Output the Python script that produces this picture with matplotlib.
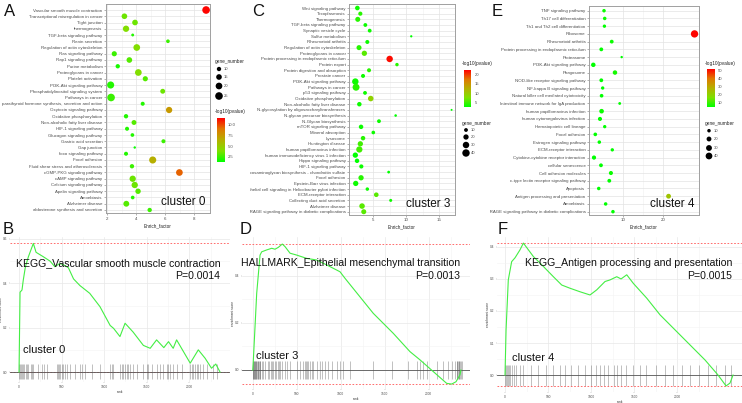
import matplotlib
matplotlib.use('Agg')
import matplotlib.pyplot as plt
import numpy as np
from matplotlib.colors import LinearSegmentedColormap, Normalize
from matplotlib.colorbar import ColorbarBase
from matplotlib.transforms import Bbox, TransformedBbox

plt.rcParams['font.family'] = ['Liberation Sans', 'DejaVu Sans']

# ---------------- data: KEGG dot plots ----------------
A_terms = ['Vascular smooth muscle contraction', 'Transcriptional misregulation in cancer', 'Tight junction',
           'thermogenesis', 'TGF-beta signaling pathway', 'Renin secretion', 'Regulation of actin cytoskeleton',
           'Ras signaling pathway', 'Rap1 signaling pathway', 'Purine metabolism', 'Proteoglycans in cancer',
           'Platelet activation', 'PI3K-Akt signaling pathway', 'Phosphatidylinositol signaling system',
           'Pathways in cancer', 'parathyroid hormone synthesis, secretion and action', 'Oxytocin signaling pathway',
           'Oxidative phosphorylation', 'Non-alcoholic fatty liver disease', 'HIF-1 signaling pathway',
           'Glucagon signaling pathway', 'Gastric acid secretion', 'Gap junction', 'foxo signaling pathway',
           'Focal adhesion', 'Fluid shear stress and atherosclerosis', 'cGMP-PKG signaling pathway',
           'cAMP signaling pathway', 'Calcium signaling pathway', 'Apelin signaling pathway', 'Amoebiasis',
           'Alzheimer disease', 'aldosterone synthesis and secretion']
A_enrich = [8.83, 3.2, 3.93, 3.31, 3.77, 6.2, 4.05, 2.5, 3.54, 2.74, 4.16, 4.64, 2.25, 5.84, 2.28, 4.46, 6.28,
            3.31, 3.86, 3.38, 3.75, 5.89, 3.91, 3.31, 5.15, 3.72, 6.99, 3.77, 3.91, 4.14, 3.77, 3.33, 4.94]
A_genes = [25, 15, 15, 18, 6, 8, 20, 13, 15, 10, 20, 13, 22, 12, 25, 9, 18, 10, 12, 9, 8, 9, 5, 9, 22, 10, 20,
           18, 18, 14, 8, 16, 10]
A_logp = [11.5, 3.5, 3.5, 4, 2, 2.5, 4, 2.5, 3, 1.8, 4, 3, 2, 3.5, 2.5, 2, 7.5, 2, 3, 2, 2, 2.5, 1.5, 2, 6.5,
          2.5, 9.5, 3.5, 3.5, 3, 2, 3, 2.5]

C_terms = ['Wnt signaling pathway', 'Toxoplasmosis', 'Thermogenesis', 'TGF-beta signaling pathway',
           'Synaptic vesicle cycle', 'Sulfur metabolism', 'Rheumatoid arthritis', 'Regulation of actin cytoskeleton',
           'Proteoglycans in cancer', 'Protein processing in endoplasmic reticulum', 'Protein export',
           'Protein digestion and absorption', 'Prostate cancer', 'PI3K-Akt signaling pathway', 'Pathways in cancer',
           'p53 signaling pathway', 'Oxidative phosphorylation', 'Non-alcoholic fatty liver disease',
           'N-glycosylation by oligosaccharyltransferases', 'N-glycan precursor biosynthesis',
           'N-Glycan biosynthesis', 'mTOR signaling pathway', 'Mineral absorption', 'Lysosome', 'Huntington disease',
           'human papillomavirus infection', 'human immunodeficiency virus 1 infection', 'Hippo signaling pathway',
           'HIF-1 signaling pathway', 'Glycosaminoglycan biosynthesis - chondroitin sulfate', 'Focal adhesion',
           'Epstein-Barr virus infection', 'Epithelial cell signaling in Helicobacter pylori infection',
           'ECM-receptor interaction', 'Collecting duct acid secretion', 'Alzheimer disease',
           'AGE-RAGE signaling pathway in diabetic complications']
C_enrich = [2.58, 3.03, 2.64, 3.79, 4.45, 10.76, 4.09, 2.83, 3.64, 7.48, 8.59, 4.35, 3.44, 2.27, 2.38, 3.74, 4.61,
            2.88, 16.88, 8.39, 5.86, 3.14, 5.0, 3.44, 3.03, 2.88, 2.27, 2.53, 3.18, 7.33, 3.14, 2.33, 4.09, 5.45,
            7.64, 3.29, 3.55]
C_genes = [15, 12, 18, 10, 10, 3, 11, 18, 20, 30, 8, 11, 11, 30, 35, 10, 22, 14, 2, 4, 10, 14, 9, 14, 20, 28, 20,
           14, 12, 5, 20, 20, 8, 15, 6, 22, 18]
C_logp = [3, 4, 4, 3, 3, 2, 3, 4, 6, 22, 4, 4, 3, 3, 4, 3, 9, 3, 2, 2, 3, 3, 3, 4, 5, 5, 2.5, 2.5, 3, 2.5, 4, 3, 3,
          6, 3, 6, 6]

E_terms = ['TNF signaling pathway', 'Th17 cell differentiation', 'Th1 and Th2 cell differentiation', 'Ribosome',
           'Rheumatoid arthritis', 'Protein processing in endoplasmic reticulum', 'Proteasome',
           'PI3K-Akt signaling pathway', 'Phagosome', 'NOD-like receptor signaling pathway',
           'NF-kappa B signaling pathway', 'Natural killer cell mediated cytotoxicity',
           'Intestinal immune network for IgA production', 'human papillomavirus infection',
           'human cytomegalovirus infection', 'Hematopoietic cell lineage', 'Focal adhesion',
           'Estrogen signaling pathway', 'ECM-receptor interaction', 'Cytokine-cytokine receptor interaction',
           'cellular senescence', 'Cell adhesion molecules', 'c-type lectin receptor signaling pathway', 'Apoptosis',
           'Antigen processing and presentation', 'Amoebiasis', 'AGE-RAGE signaling pathway in diabetic complications']
E_enrich = [5.4, 5.57, 5.5, 27.7, 7.3, 4.73, 9.75, 2.76, 8.1, 4.73, 5.07, 4.8, 9.26, 4.8, 4.4, 5.57, 3.25, 4.24,
            7.44, 2.93, 4.65, 7.1, 6.7, 4.1, 21.3, 5.8, 7.6]
E_genes = [10, 10, 9, 48, 12, 12, 4, 17, 17, 12, 9, 11, 6, 18, 14, 9, 11, 10, 9, 15, 12, 14, 12, 10, 20, 10, 10]
E_logp = [6, 6, 5, 52, 6, 5, 4, 5, 7, 5, 5, 5, 5, 6, 5, 5, 4, 4, 5, 4, 5, 6, 5, 4, 24, 4, 5]

# ---------------- data: GSEA running scores ----------------
B_rank = [0, 12, 35, 50, 75, 110, 168, 200, 285, 365, 420, 480, 540, 580, 640, 715, 830, 950, 1070, 1110, 1185,
          1245, 1340, 1460, 1540, 1615, 1700, 1755, 1810, 1850, 2010, 2105, 2185, 2260, 2310, 2360]
B_es = [0, 0.36, 0.37, 0.415, 0.475, 0.52, 0.58, 0.54, 0.52, 0.50, 0.475, 0.49, 0.48, 0.47, 0.42, 0.39, 0.355,
        0.295, 0.21, 0.197, 0.16, 0.22, 0.18, 0.12, 0.107, 0.145, 0.11, 0.137, 0.107, 0.145, 0.04, 0.10, 0.062,
        0.017, 0.036, 0.0]
B_hits = [0, 12, 23, 35, 51, 63, 78, 90, 110, 137, 149, 168, 227, 266, 294, 325, 442, 454, 470, 485, 501, 520, 540,
          560, 599, 657, 716, 736, 775, 853, 951, 1068, 1088, 1108, 1186, 1206, 1225, 1245, 1264, 1284, 1303, 1342,
          1382, 1460, 1499, 1518, 1557, 1616, 1655, 1694, 1733, 1753, 1772, 1811, 1851, 1909, 2007, 2027, 2046,
          2066, 2086, 2105, 2125, 2164, 2203, 2281, 2320]

D_rank = [0, 7, 26, 45, 83, 102, 159, 216, 253, 291, 336, 367, 424, 500, 613, 727, 841, 992, 1049, 1370, 1597,
          1787, 1901, 2052, 2204, 2261, 2310, 2355, 2366]
D_es = [0, 0.043, 0.184, 0.326, 0.489, 0.503, 0.511, 0.518, 0.514, 0.522, 0.536, 0.525, 0.497, 0.489, 0.475,
        0.468, 0.447, 0.418, 0.39, 0.241, 0.156, 0.078, 0.043, -0.007, -0.057, -0.06, -0.05, -0.021, 0]
D_hits = [0, 6, 12, 18, 24, 30, 36, 42, 48, 55, 62, 70, 77, 83, 102, 115, 140, 178, 190, 203, 216, 234, 250, 265,
          282, 298, 314, 329, 367, 386, 424, 500, 537, 575, 590, 605, 620, 632, 651, 670, 689, 727, 765, 784, 821,
          859, 897, 954, 992, 1029, 1105, 1370, 1579, 1768, 1863, 1901, 1938, 1977, 2090, 2166, 2222, 2261, 2298,
          2317, 2325, 2333, 2341, 2349, 2357, 2366, 2374]

F_rank = [0, 12, 38, 77, 116, 174, 213, 329, 445, 561, 658, 754, 870, 986, 1064, 1160, 1218, 1296, 1346, 1412,
          1489, 1644, 1798, 1972, 2146, 2320, 2471, 2564, 2610, 2645]
F_es = [0, 0.14, 0.297, 0.354, 0.366, 0.391, 0.412, 0.370, 0.339, 0.307, 0.281, 0.271, 0.26, 0.25, 0.266, 0.292,
        0.297, 0.307, 0.3, 0.313, 0.286, 0.24, 0.188, 0.141, 0.094, 0.047, 0, -0.034, -0.025, 0]
F_hits = [0, 10, 20, 30, 45, 60, 80, 100, 130, 170, 210, 300, 380, 470, 560, 640, 700, 760, 850, 930, 1000, 1060,
          1100, 1150, 1200, 1260, 1300, 1350, 1400, 1480, 1560, 1640, 1750, 1850, 1950, 2050, 2150, 2250, 2350,
          2450, 2550, 2620]

W, H = 742, 403
fig = plt.figure(figsize=(W / 100, H / 100), dpi=100)

cmap = LinearSegmentedColormap.from_list('gr', ['#00ff00', '#7fe000', '#b5b000', '#e07800', '#ff0000'])
txt = '#4D4D4D'


def px_axes(x0, y0, x1, y1, **kw):
    return fig.add_axes([x0 / W, 1 - y1 / H, (x1 - x0) / W, (y1 - y0) / H], **kw)


def size_map(v, vmin, vmax, smin, smax):
    v = np.asarray(v, dtype=float)
    return smin + (v - vmin) / (vmax - vmin) * (smax - smin)


def dot_panel(box, terms, enrich, genes, logp, xlim, xticks, ylim, crange, srange, clip_x, cluster):
    ax = px_axes(*box)
    n = len(terms)
    y = np.arange(n)
    s = size_map(genes, *srange)
    ax.scatter(enrich, y, s=s, c=logp, cmap=cmap, vmin=crange[0], vmax=crange[1],
               edgecolors='none', zorder=3)
    ax.set_xlim(*xlim)
    ax.set_ylim(*ylim)
    ax.set_yticks(y)
    ax.set_yticklabels(terms, fontsize=3.2, color=txt)
    ax.set_xticks(xticks)
    ax.set_xticklabels([str(t) for t in xticks], fontsize=3.2, color=txt)
    ax.set_xticks([(a + b) / 2 for a, b in zip(xticks[:-1], xticks[1:])], minor=True)
    ax.tick_params(length=1.5, width=0.4, color='#777777', pad=1)
    ax.tick_params(which='minor', length=0)
    ax.grid(True, which='major', color='#E3E3E3', lw=0.5)
    ax.grid(True, which='minor', axis='x', color='#F0F0F0', lw=0.4)
    ax.set_axisbelow(True)
    for sp in ax.spines.values():
        sp.set_color('#A0A0A0')
        sp.set_linewidth(0.7)
    ax.set_xlabel('Enrich_factor', fontsize=3.3, color='#222222', labelpad=1.5)
    ax.text(0.96, 0.025, cluster, transform=ax.transAxes, ha='right', va='bottom', fontsize=8.5, color='#111111')
    clip = TransformedBbox(Bbox([[clip_x / W, 0], [1, 1]]), fig.transFigure)
    for lab in ax.get_yticklabels():
        lab.set_clip_box(clip)
        lab.set_clip_on(True)
    return ax


A_ax = dot_panel((106, 4, 210, 213.5), A_terms, A_enrich, A_genes, A_logp, (1.93, 9.1), [2, 4, 6, 8],
                 (32.56, -0.96), (1.3, 11.6), (5, 25, 3, 30), 0, 'cluster 0')
C_ax = dot_panel((349, 4, 455, 215), C_terms, C_enrich, C_genes, C_logp, (1.31, 17.4), [5, 10, 15],
                 (36.58, -0.71), (2.5, 22.5), (2, 35, 2, 25), 250, 'cluster 3')
E_ax = dot_panel((589, 6, 699, 215), E_terms, E_enrich, E_genes, E_logp, (1.7, 28.8), [10, 20],
                 (26.43, -0.61), (5, 52.5), (4, 48, 3, 28), 490, 'cluster 4')

# ---------------- GSEA panels ----------------


def gsea_panel(box, rank, es, hits, xlim, ylim, yticks, hit_span, title, pval, cluster):
    ax = px_axes(*box)
    ax.set_xlim(*xlim)
    ax.set_ylim(*ylim)
    ax.set_xticks([0, 500, 1000, 1500, 2000])
    ax.set_xticks([250, 750, 1250, 1750, 2250], minor=True)
    ax.set_yticks(yticks)
    ax.set_yticks([(a + b) / 2 for a, b in zip(yticks[:-1], yticks[1:])], minor=True)
    ax.tick_params(labelsize=2.3, labelcolor=txt, length=1, width=0.3, color='#999999', pad=1)
    ax.tick_params(which='minor', length=0)
    ax.grid(True, which='major', color='#E8E8E8', lw=0.5)
    ax.grid(True, which='minor', color='#F3F3F3', lw=0.4)
    ax.set_axisbelow(True)
    for sp in ax.spines.values():
        sp.set_visible(False)
    ax.vlines(hits, hit_span[0], hit_span[1], color='black', lw=0.5, alpha=0.35, zorder=2)
    ax.axhline(max(es), color='#FF5555', ls=(0, (2, 2)), lw=0.6, zorder=2)
    ax.axhline(min(es), color='#FF5555', ls=(0, (2, 2)), lw=0.6, zorder=2)
    ax.axhline(0, color='#555555', lw=0.6, zorder=3)
    ax.plot(rank, es, color='#44EE44', lw=0.8, zorder=4)
    ax.set_xlabel('rank', fontsize=2.3, color='#333333', labelpad=1)
    ax.set_ylabel('enrichment score', fontsize=2.3, color='#333333')
    ax.yaxis.set_label_coords(-0.03, 0.5)
    right = box[2] / W - 0.013
    fig.text(right, 1 - 263 / H, title, ha='right', va='center', fontsize=7.6, color='#111111')
    fig.text(right, 1 - 276 / H, pval, ha='right', va='center', fontsize=7.6, color='#111111')
    ax.text(0.06, 0.2, cluster, transform=ax.transAxes, fontsize=8, color='#111111')
    return ax


B_ax = gsea_panel((10, 237, 230, 382), B_rank, B_es, B_hits, (-106, 2477), (-0.045, 0.609), [0, 0.2, 0.4, 0.6],
                  (-0.032, 0.036), 'KEGG_Vascular smooth muscle contraction', 'P=0.0014', 'cluster 0')
D_ax = gsea_panel((242, 237, 470, 389), D_rank, D_es, D_hits, (-122, 2469), (-0.081, 0.566), [0, 0.2, 0.4],
                  (-0.038, 0.038), 'HALLMARK_Epithelial mesenchymal transition', 'P=0.0013', 'cluster 3')
F_ax = gsea_panel((497, 237, 742, 392), F_rank, F_es, F_hits, (-93, 2749), (-0.053, 0.431),
                  [0, 0.1, 0.2, 0.3, 0.4], (-0.034, 0.031), 'KEGG_Antigen processing and presentation', 'P=0.0015',
                  'cluster 4')

# ---------------- legends and panel letters (pixel overlay) ----------------
ov = fig.add_axes([0, 0, 1, 1], zorder=10)
ov.set_xlim(0, W)
ov.set_ylim(H, 0)
ov.axis('off')


def legend(x, title_y, dot_ys, breaks, srange, cb_y0, cb_y1, crange, cticks, cfmt, cb_title_y, clip_x1):
    clip = TransformedBbox(Bbox([[0, 0], [clip_x1 / W, 1]]), fig.transFigure)
    t = ov.text(x, title_y, 'gene_number', fontsize=3.4, color='#222222', va='center')
    t.set_clip_box(clip)
    ov.scatter([x + 4] * len(breaks), dot_ys, s=size_map(breaks, *srange), color='black', edgecolors='none')
    for yy, b in zip(dot_ys, breaks):
        ov.text(x + 9, yy, str(b), fontsize=3, color=txt, va='center')
    t = ov.text(x, cb_title_y, '-log10(pvalue)', fontsize=3.4, color='#222222', va='center')
    t.set_clip_box(clip)
    cax = px_axes(x + 1.5, cb_y0, x + 9.5, cb_y1)
    cb = ColorbarBase(cax, cmap=cmap, norm=Normalize(*crange), ticks=cticks)
    cb.outline.set_visible(False)
    cb.ax.set_yticklabels([cfmt % c for c in cticks])
    cb.ax.tick_params(labelsize=3, labelcolor=txt, length=1.5, width=0.4, color='white', pad=1)


legend(215, 61, [69, 77, 86, 96], [10, 15, 20, 25], (5, 25, 3, 30), 118, 162, (1.3, 11.6), [2.5, 5, 7.5, 10],
       '%.1f', 112, 250)
legend(462, 123, [130, 137, 145, 153], [10, 20, 30, 40], (2, 35, 2, 25), 70, 107, (2.5, 22.5), [5, 10, 15, 20],
       '%d', 63, 742)
legend(705, 124, [130.7, 139, 148, 156], [10, 20, 30, 40], (4, 48, 3, 28), 69, 107, (5, 52.5),
       [10, 20, 30, 40, 50], '%d', 63, 742)

for lab, xx, yy in [('A', 10, 12), ('C', 258, 12), ('E', 497, 12), ('B', 8, 230), ('D', 246, 230),
                    ('F', 503, 230)]:
    ov.text(xx, yy, lab, fontsize=12, color='#111111', ha='center', va='center')

fig.savefig('out.png', dpi=100)
